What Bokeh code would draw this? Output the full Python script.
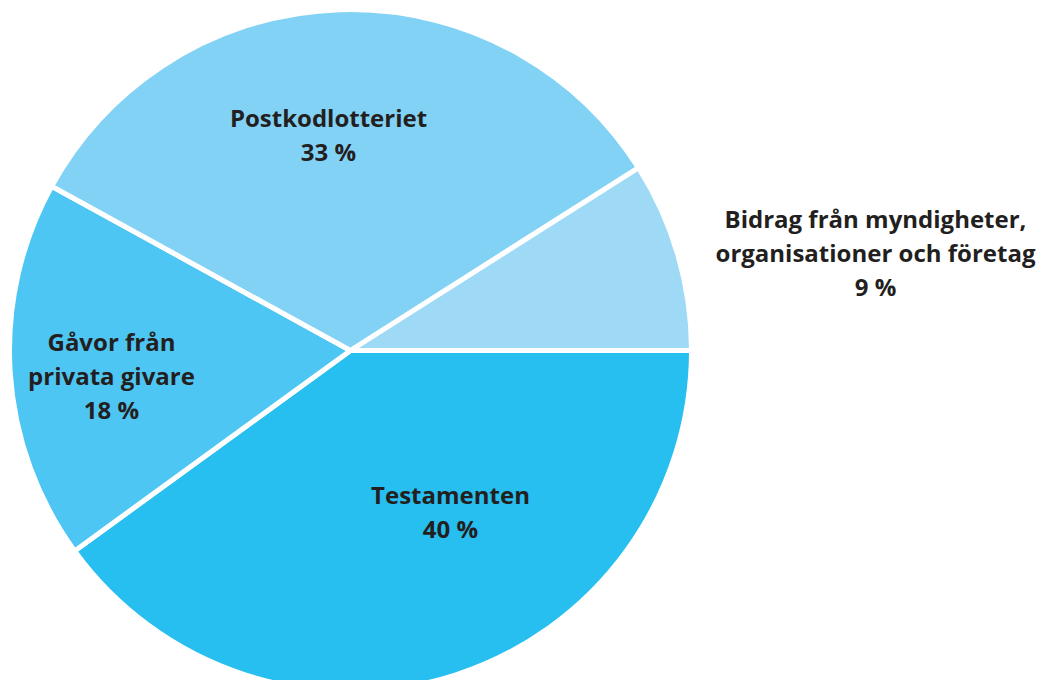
import math
from bokeh.plotting import figure
from bokeh.models import Range1d, ColumnDataSource
from bokeh.core.properties import value
from bokeh.embed import file_html
from bokeh.resources import INLINE

# data
categories = ["Testamenten", "Gåvor från\nprivata givare", "Postkodlotteriet",
              "Bidrag från myndigheter,\norganisationer och företag"]
shares = [40, 18, 33, 9]
colors = ["#27BEF0", "#4EC6F3", "#82D2F6", "#9ED9F6"]

# label anchors (layout, in pixel offsets from pie centre; y up)
label_x = [100, -239, -22, 525]
label_y = [-161, -25, 216, 98]

total = sum(shares)
starts, ends = [], []
cum = 0.0
for s in shares:
    starts.append(-2 * math.pi * cum / total)
    cum += s
    ends.append(-2 * math.pi * cum / total)

src = ColumnDataSource(dict(cat=categories, share=shares, color=colors,
                            start=starts, end=ends))

p = figure(width=1040, height=680, output_backend="svg", toolbar_location=None,
           x_range=Range1d(-350, 690), y_range=Range1d(-330, 350),
           min_border=0)
p.axis.visible = False
p.grid.visible = False
p.outline_line_color = None
p.background_fill_color = "white"
p.border_fill_color = "white"

p.wedge(x=0, y=0, radius=341, start_angle="start", end_angle="end",
        direction="clock", fill_color="color", line_color="white",
        line_width=5, source=src)

texts = [f"{c}\n{s} %" for c, s in zip(categories, shares)]
lsrc = ColumnDataSource(dict(x=label_x, y=label_y, t=texts))
p.text(x="x", y="y", text="t", source=lsrc, text_align="center",
       text_baseline="middle", text_font=value("Open Sans"), text_font_style="bold",
       text_font_size="24px", text_color="#231F20", text_line_height=1.04)

open("out.html", "w").write(file_html(p, INLINE))
